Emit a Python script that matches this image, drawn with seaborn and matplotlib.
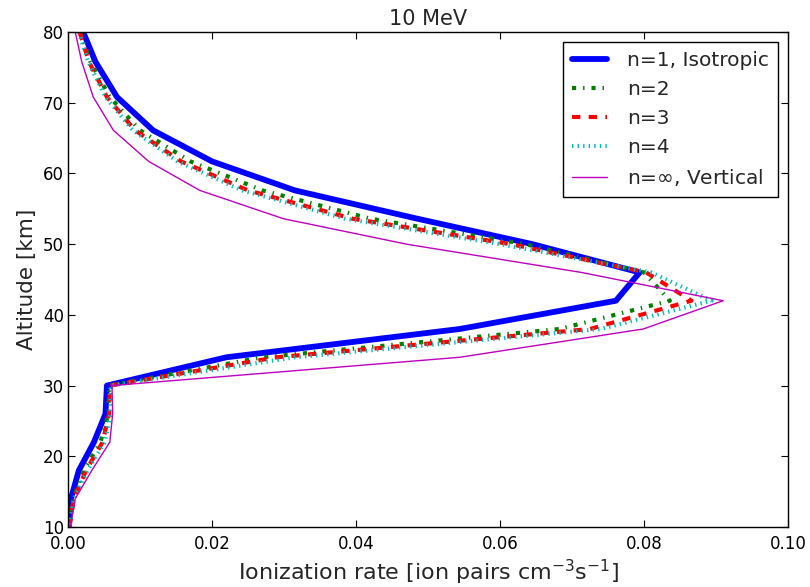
import matplotlib
matplotlib.use("Agg")
import matplotlib.pyplot as plt
import seaborn as sns
import pandas as pd

# Altitude grid [km]
altitude = [80, 75.8, 70.8, 66.1, 61.7, 57.6, 53.6, 50, 46, 42, 38, 34, 30, 26, 22, 18, 14, 10]

# Ionization rate [ion pairs cm^-3 s^-1]
n1_isotropic = [0.0021, 0.0038, 0.0068, 0.0118, 0.0200, 0.0315, 0.0485, 0.0645, 0.0794, 0.0761,
                0.0544, 0.0220, 0.0054, 0.0052, 0.0036, 0.0015, 0.0004, 0.0001]
n2 = [0.0017, 0.0031, 0.0058, 0.0100, 0.0170, 0.0270, 0.0420, 0.0635, 0.0800, 0.0836,
      0.0683, 0.0270, 0.0057, 0.0056, 0.0045, 0.0022, 0.0007, 0.0002]
n3 = [0.0016, 0.0029, 0.0054, 0.0093, 0.0157, 0.0250, 0.0395, 0.0615, 0.0803, 0.0866,
      0.0725, 0.0290, 0.0058, 0.0057, 0.0048, 0.0025, 0.0008, 0.0002]
n4 = [0.0015, 0.0028, 0.0052, 0.0090, 0.0152, 0.0242, 0.0385, 0.0600, 0.0810, 0.0894,
      0.0740, 0.0315, 0.0059, 0.0059, 0.0051, 0.0027, 0.0008, 0.0002]
n_inf_vertical = [0.0010, 0.0019, 0.0035, 0.0063, 0.0112, 0.0183, 0.0299, 0.0470, 0.0713, 0.0910,
                  0.0799, 0.0544, 0.0061, 0.0062, 0.0058, 0.0033, 0.0010, 0.0003]

labels = ["n=1, Isotropic", "n=2", "n=3", "n=4", r"n=$\infty$, Vertical"]
x_ticks = [0.00, 0.02, 0.04, 0.06, 0.08, 0.10]
y_ticks = [10, 20, 30, 40, 50, 60, 70, 80]

sns.set_style("ticks")
plt.rcParams.update({
    "font.family": ["DejaVu Sans"],
    "lines.scale_dashes": False,
    "xtick.direction": "in",
    "ytick.direction": "in",
    "xtick.top": True,
    "ytick.right": True,
    "xtick.major.size": 5,
    "ytick.major.size": 5,
    "axes.edgecolor": "black",
    "axes.linewidth": 1.0,
    "xtick.color": "black",
    "ytick.color": "black",
})

fig = plt.figure(figsize=(8.1, 5.87), dpi=100)
ax = fig.add_axes([0.084, 0.1022, 0.8888, 0.8433])

series = [n1_isotropic, n2, n3, n4, n_inf_vertical]
styles = [
    dict(color=(0, 0, 1), lw=4.2, linestyle="-"),
    dict(color=(0, 0.5, 0), lw=3.0, linestyle=(0, (3, 5, 1, 5))),
    dict(color=(1, 0, 0), lw=3.0, linestyle=(0, (6, 6))),
    dict(color=(0, 0.75, 0.75), lw=3.0, linestyle=(0, (1, 3))),
    dict(color=(0.75, 0, 0.75), lw=1.0, linestyle="-"),
]

for vals, lab, st in zip(series, labels, styles):
    df = pd.DataFrame({"rate": vals, "alt": altitude})
    sns.lineplot(data=df, x="rate", y="alt", sort=False, estimator=None,
                 ax=ax, label=lab, **st)

ax.set_xlim(0, 0.10)
ax.set_ylim(10, 80)
ax.set_xticks(x_ticks)
ax.set_yticks(y_ticks)
ax.set_xticklabels([f"{t:.2f}" for t in x_ticks])
ax.tick_params(axis="both", labelsize=12)
ax.tick_params(axis="x", pad=6)
ax.tick_params(axis="y", pad=3)
ax.set_xlabel(r"Ionization rate [ion pairs cm$^{-3}$s$^{-1}$]", fontsize=16, labelpad=3)
ax.set_ylabel("Altitude [km]", fontsize=15.5, labelpad=4)
ax.set_title("10 MeV", fontsize=15, pad=5)

leg = ax.legend(loc="upper right", fontsize=14.5, frameon=True, fancybox=False,
                shadow=False, handlelength=1.75, handletextpad=1.0,
                borderpad=0.45, borderaxespad=0.5)
leg.get_frame().set_edgecolor("black")
leg.get_frame().set_linewidth(1.0)
leg.get_frame().set_alpha(1.0)

fig.savefig("out.png", dpi=100)
